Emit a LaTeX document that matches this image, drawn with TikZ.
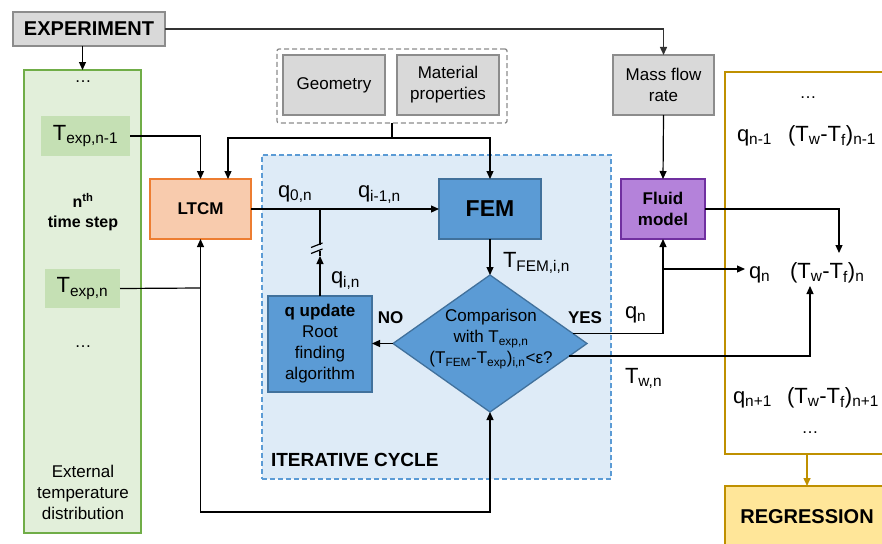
\documentclass[tikz,border=0pt]{standalone}
\usepackage{fontspec}
\setmainfont{Liberation Sans}
\usetikzlibrary{arrows.meta,shapes.geometric,calc}
\definecolor{grayfill}{HTML}{D9D9D9}
\definecolor{grayline}{HTML}{8C8C8C}
\definecolor{greenfill}{HTML}{E2EFDA}
\definecolor{greenline}{HTML}{70AD47}
\definecolor{greeninner}{HTML}{C5E0B4}
\definecolor{orfill}{HTML}{F8CBAD}
\definecolor{orline}{HTML}{ED7D31}
\definecolor{itfill}{HTML}{DEEBF7}
\definecolor{itline}{HTML}{5B9BD5}
\definecolor{bluefill}{HTML}{5B9BD5}
\definecolor{blueline}{HTML}{41719C}
\definecolor{purfill}{HTML}{B482DA}
\definecolor{purline}{HTML}{7030A0}
\definecolor{goldline}{HTML}{BF9000}
\definecolor{goldfill}{HTML}{FFE699}
\newcommand\bodyf{\fontsize{17}{21}\selectfont}
\newcommand\varf{\fontsize{22}{26}\selectfont}
\newcommand\sbs[1]{\textsubscript{#1}}
\begin{document}
\begin{tikzpicture}[x=1pt,y=-1pt,
  every node/.style={inner sep=0pt, outer sep=0pt},
  arr/.style={-{Triangle[length=8pt,width=7pt]}, line width=1.2pt, draw=black},
  ln/.style={line width=1.2pt, draw=black},
  graybox/.style={draw=grayline, fill=grayfill, line width=1.3pt, align=center, font=\bodyf},
  bluebox/.style={draw=blueline, fill=bluefill, line width=1.3pt, align=center, font=\bodyf},
  lbl/.style={anchor=base west, font=\varf},
  bold17/.style={font=\bodyf\bfseries, align=center}]
\useasboundingbox (0,0) rectangle (882,543);

% backgrounds
\node[draw=greenline, fill=greenfill, line width=1.5pt, minimum width=117pt, minimum height=463pt] (green) at (82.5,301.5) {};
\node[draw=itline, fill=itfill, line width=1.3pt, dashed, dash pattern=on 5pt off 3pt, minimum width=349pt, minimum height=324pt] (iter) at (436.5,317) {};
\node[draw=goldline, line width=1.5pt, minimum width=164pt, minimum height=382pt] (gold) at (807,263) {};

% top
\node[graybox, font=\fontsize{20}{24}\selectfont\bfseries, minimum width=152pt, minimum height=34pt] (exp) at (89,29) {EXPERIMENT};
\node[draw=grayline, line width=1.3pt, dashed, dash pattern=on 5pt off 3pt, rounded corners=2pt, minimum width=230pt, minimum height=74pt] (grp) at (392,86) {};
\node[graybox, minimum width=102pt, minimum height=60pt] (geo) at (334,85) {Geometry};
\node[graybox, minimum width=102pt, minimum height=60pt] (mat) at (448,85) {Material\\properties};
\node[graybox, minimum width=101pt, minimum height=60pt] (mass) at (663.5,85) {Mass flow\\rate};

% green column
\node[font=\bodyf] (dots1) at (83,82) {…};
\node[fill=greeninner, minimum width=89pt, minimum height=40pt, font=\varf] (texp1) at (85.5,136) {T\sbs{exp,n-1}};
\node[font=\fontsize{16}{20}\selectfont\bfseries, align=center] (nth) at (83,212) {n\textsuperscript{th}\\time step};
\node[fill=greeninner, minimum width=75pt, minimum height=39pt, font=\varf] (texpn) at (82.5,288.5) {T\sbs{exp,n}};
\node[font=\bodyf] (dots2) at (83,347) {…};
\node[font=\bodyf, align=center] (ext) at (83,492) {External\\temperature\\distribution};

% main boxes
\node[draw=orline, fill=orfill, line width=1.3pt, minimum width=101pt, minimum height=60pt, font=\bodyf\bfseries] (ltcm) at (200.5,209) {LTCM};
\node[bluebox, minimum width=102pt, minimum height=60pt, font=\fontsize{23}{26}\selectfont\bfseries] (fem) at (490,209) {FEM};
\node[bluebox, minimum width=104pt, minimum height=96pt] (qup) at (320,344) {\textbf{q update}\\Root\\finding\\algorithm};
\node[draw=blueline, fill=bluefill, line width=1.3pt, shape=diamond, minimum width=194pt, minimum height=137pt] (dia) at (490,343.5) {};
\node[font=\bodyf, align=center] (diatext) at (491,339) {Comparison\\with T\sbs{exp,n}\\(T\sbs{FEM}-T\sbs{exp})\sbs{i,n}<ε?};
\node[draw=purline, fill=purfill, line width=1.3pt, minimum width=84pt, minimum height=60pt, font=\bodyf\bfseries, align=center] (fluid) at (663,209) {Fluid\\model};
\node[draw=goldline, fill=goldfill, line width=1.5pt, minimum width=164pt, minimum height=90pt, anchor=north] (reg) at (807,486) {};
\node[font=\fontsize{20}{24}\selectfont\bfseries] (regtext) at (807,517) {REGRESSION};

% labels
\node[lbl] (q0n) at (278,197) {q\sbs{0,n}};
\node[lbl] (qim1) at (358,197) {q\sbs{i-1,n}};
\node[lbl] (tfem) at (503,267) {T\sbs{FEM,i,n}};
\node[lbl] (qin) at (331,283) {q\sbs{i,n}};
\node[bold17] (no) at (390.5,318) {NO};
\node[bold17] (yes) at (585,318) {YES};
\node[lbl] (qnyes) at (625,318) {q\sbs{n}};
\node[lbl] (twn) at (625,383) {T\sbs{w,n}};
\node[anchor=west, font=\fontsize{19}{22}\selectfont\bfseries] (itlbl) at (271,460) {ITERATIVE CYCLE};

% gold box contents
\node[font=\bodyf] (gdots1) at (808,98) {…};
\node[lbl] (qnm1) at (737,141) {q\sbs{n-1}};
\node[lbl] (twfnm1) at (788,141) {(T\sbs{w}-T\sbs{f})\sbs{n-1}};
\node[lbl] (qn) at (749,278) {q\sbs{n}};
\node[lbl] (twfn) at (790,278) {(T\sbs{w}-T\sbs{f})\sbs{n}};
\node[lbl] (qnp1) at (733,403) {q\sbs{n+1}};
\node[lbl] (twfnp1) at (787,403) {(T\sbs{w}-T\sbs{f})\sbs{n+1}};
\node[font=\bodyf] (gdots2) at (810,433) {…};

% coordinates
\coordinate (gj) at (392,138);
\coordinate (ltcmin2) at (228,179);
\coordinate (qj) at (320,209);
\coordinate (brkA) at (320,256);
\coordinate (brkB) at (320,245);
\coordinate (jn) at (200.5,288);
\coordinate (bl) at (200.5,512);
\coordinate (qnbr) at (663,269);
\coordinate (qnarr) at (745,269);
\coordinate (tin) at (810,286);
\coordinate (tout) at (839,253);

% connectors
\draw[arr] (exp.south -| green.north) -- (green.north);
\draw[arr, line width=1.4pt, draw=black!80] (exp.east) -| (mass.north);
\draw[arr] (texp1.east) -| (ltcm.north);
\draw[ln] (grp.south) -- (gj);
\draw[arr] (gj) -| (fem.north);
\draw[arr] (gj) -| (ltcmin2);
\draw[arr] (ltcm.east) -- (fem.west);
\draw[arr] (qup.north) -- (brkA);
\draw[ln] (brkA) -- (320,251);
\draw[ln] (brkB) -- (qj);
\draw[ln] (311,247.5) -- (322.5,243);
\draw[ln] (311,253.5) -- (322.5,249);
\draw[arr] (fem.south) -- (dia.north);
\draw[arr] (dia.west) -- (dia.west -| qup.east);
\draw[arr] (dia.7) -| (fluid.south);
\draw[arr] (qnbr) -- (qnarr);
\draw[arr] (dia.-9) -| (tin);
\draw[arr] (fluid.east) -| (tout);
\draw[arr] (mass.south) -- (fluid.north);
\draw[ln] (texpn.east) -- (jn);
\draw[arr] (jn) -- (ltcm.south);
\draw[arr] (jn) -- (bl) -| (dia.south);
\draw[-{Triangle[length=8pt,width=7pt]}, line width=1.5pt, draw=goldline] (gold.south) -- (reg.north);
\end{tikzpicture}
\end{document}
